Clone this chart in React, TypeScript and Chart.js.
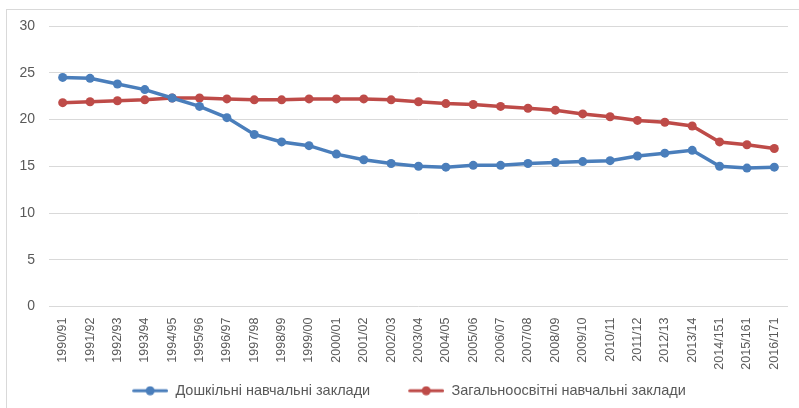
import React, { useEffect, useRef } from "react";
import { Chart, registerables } from "chart.js";

Chart.register(...registerables);

const categories = [
  "1990/91", "1991/92", "1992/93", "1993/94", "1994/95", "1995/96", "1996/97",
  "1997/98", "1998/99", "1999/00", "2000/01", "2001/02", "2002/03", "2003/04",
  "2004/05", "2005/06", "2006/07", "2007/08", "2008/09", "2009/10", "2010/11",
  "2011/12", "2012/13", "2013/14", "2014/151", "2015/161", "2016/171",
];

const preschool = [
  24.5, 24.4, 23.8, 23.2, 22.3, 21.4, 20.2, 18.4, 17.6, 17.2, 16.3, 15.7, 15.3,
  15.0, 14.9, 15.1, 15.1, 15.3, 15.4, 15.5, 15.6, 16.1, 16.4, 16.7, 15.0, 14.8, 14.9,
];

const general = [
  21.8, 21.9, 22.0, 22.1, 22.3, 22.3, 22.2, 22.1, 22.1, 22.2, 22.2, 22.2, 22.1,
  21.9, 21.7, 21.6, 21.4, 21.2, 21.0, 20.6, 20.3, 19.9, 19.7, 19.3, 17.6, 17.3, 16.9,
];

const seriesNames = ["Дошкільні навчальні заклади", "Загальноосвітні навчальні заклади"];
const seriesColors = ["#4A7EBB", "#BE4B48"];
const yTicks = [0, 5, 10, 15, 20, 25, 30];

const FONT = "'Liberation Sans', Arial, sans-serif";
const TEXT = "#595959";
const MARKER_GAP = 30;

function makeMarker(color: string): HTMLCanvasElement {
  const c = document.createElement("canvas");
  c.width = MARKER_GAP + 36;
  c.height = 10;
  const ctx = c.getContext("2d")!;
  ctx.strokeStyle = color;
  ctx.lineWidth = 3;
  ctx.lineCap = "round";
  ctx.beginPath();
  ctx.moveTo(MARKER_GAP + 1.5, 5);
  ctx.lineTo(MARKER_GAP + 34.5, 5);
  ctx.stroke();
  ctx.fillStyle = color;
  ctx.beginPath();
  ctx.arc(MARKER_GAP + 18, 5, 4.5, 0, Math.PI * 2);
  ctx.fill();
  return c;
}

export default function App() {
  const ref = useRef<HTMLCanvasElement>(null);

  useEffect(() => {
    if (!ref.current) return;
    const markers = seriesColors.map(makeMarker);
    const chart = new Chart(ref.current, {
      type: "line",
      data: {
        labels: categories,
        datasets: [preschool, general].map((d, i) => ({
          label: seriesNames[i],
          data: d,
          borderColor: seriesColors[i],
          backgroundColor: seriesColors[i],
          borderWidth: 3.5,
          pointRadius: 4.5,
          pointHoverRadius: 4.5,
          pointBackgroundColor: seriesColors[i],
          pointBorderWidth: 0,
          tension: 0,
        })),
      },
      options: {
        animation: false,
        responsive: false,
        maintainAspectRatio: false,
        layout: { padding: { top: 26, right: 11, bottom: 0, left: 0 } },
        plugins: {
          tooltip: { enabled: false },
          legend: {
            position: "bottom",
            labels: {
              color: TEXT,
              font: { family: FONT, size: 14.5 },
              usePointStyle: true,
              pointStyleWidth: MARKER_GAP + 36,
              padding: 8,
              generateLabels: (chart: any) =>
                chart.data.datasets.map((ds: any, i: number) => ({
                  text: ds.label,
                  fillStyle: ds.borderColor,
                  strokeStyle: ds.borderColor,
                  lineWidth: 0,
                  pointStyle: markers[i],
                  hidden: false,
                  datasetIndex: i,
                  fontColor: TEXT,
                })),
            },
          },
        },
        scales: {
          x: {
            type: "category",
            offset: true,
            grid: { display: false },
            border: { display: false },
            ticks: {
              color: TEXT,
              font: { family: FONT, size: 12.5 },
              minRotation: 90,
              maxRotation: 90,
              autoSkip: false,
              padding: 3,
            },
            afterFit: (s: any) => {
              s.height = 69;
            },
          },
          y: {
            min: 0,
            max: 30,
            afterBuildTicks: (s: any) => {
              s.ticks = yTicks.map((v) => ({ value: v }));
            },
            grid: { color: "#D9D9D9", lineWidth: 1, drawTicks: false },
            border: { display: false },
            ticks: {
              color: TEXT,
              font: { family: FONT, size: 14 },
              padding: 14,
            },
            afterFit: (s: any) => {
              s.width = 49;
            },
          },
        },
      },
    });
    return () => chart.destroy();
  }, []);

  return (
    <div style={{ position: "absolute", left: 0, top: 0, width: 799, height: 408, background: "#fff", overflow: "hidden" }}>
      <div
        style={{
          position: "absolute",
          left: 6,
          top: 9,
          width: 820,
          height: 420,
          border: "1px solid #D9D9D9",
          boxSizing: "border-box",
        }}
      />
      <canvas ref={ref} width={799} height={408} style={{ position: "absolute", left: 0, top: 0, display: "block" }} />
    </div>
  );
}
